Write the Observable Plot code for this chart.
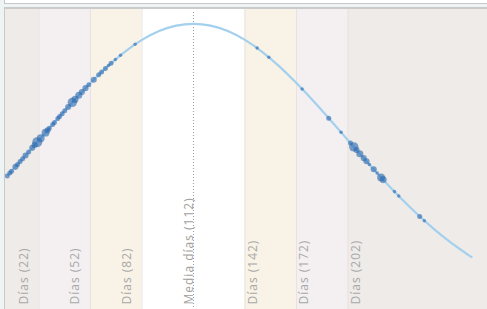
<!DOCTYPE html>
<html>
<head>
<meta charset="utf-8">
<script src="https://cdn.jsdelivr.net/npm/d3@7"></script>
<script src="https://cdn.jsdelivr.net/npm/@observablehq/plot@0.6"></script>
<style>
  html, body { margin: 0; padding: 0; }
  body { width: 487px; height: 309px; overflow: hidden; background: #eef3f4; position: relative; }
  #topbox { position: absolute; left: 4px; top: -10px; width: 600px; height: 12px; background: #fff; border: 1px solid #c9c9c9; }
  #chart { position: absolute; left: 4px; top: 7px; width: 600px; height: 320px; border-left: 1px solid #c9c9c9; border-top: 2px solid #cbcbcb; background: #fff; }
  #chart svg text { letter-spacing: 1px; }
</style>
</head>
<body>
<div id="topbox"></div>
<div id="chart"></div>
<script>
// Curve (normal distribution of days, normalized to peak = 1)
const curveDays = [4, 12, 22, 32, 42, 52, 62, 72, 82, 92, 102, 112, 122, 132, 142, 152, 162, 172, 182, 192, 202, 212, 222, 232, 242, 252, 262, 272, 274];
const curveVals = [0.4709, 0.5243, 0.5927, 0.6615, 0.7288, 0.7926, 0.8509, 0.9019, 0.9435, 0.9745, 0.9936, 1, 0.9936, 0.9745, 0.9435, 0.9019, 0.8509, 0.7926, 0.7288, 0.6615, 0.5927, 0.5243, 0.4578, 0.3946, 0.3358, 0.2821, 0.2339, 0.1915, 0.1837];

// Records (dots): days, density value, count
const dotDays = [3.5, 5, 6, 8.3, 9.5, 11, 12.5, 14.2, 16, 18.1, 19.5, 21, 23, 25.8, 27, 28, 30, 31, 33, 34, 35.5, 37, 39, 41.4, 43, 45.2, 47, 49.1, 51, 53.9, 56.8, 58.5, 60.7, 62.5, 64, 66.5, 69.5, 78, 149.1, 155.9, 175.3, 190.8, 198, 203.5, 205.4, 207, 208.9, 211.2, 212.8, 214.5, 217, 219, 221.3, 222.5, 229.1, 231.6, 243.8, 246.5];
const dotVals = [0.4676, 0.4775, 0.4841, 0.4994, 0.5075, 0.5176, 0.5277, 0.5392, 0.5516, 0.5659, 0.5756, 0.5858, 0.5996, 0.6189, 0.6272, 0.6341, 0.6479, 0.6547, 0.6683, 0.6751, 0.6853, 0.6954, 0.7089, 0.7249, 0.7354, 0.7497, 0.7613, 0.7746, 0.7864, 0.8042, 0.8214, 0.8313, 0.8437, 0.8537, 0.8618, 0.8749, 0.8899, 0.9281, 0.9150, 0.8830, 0.7721, 0.6697, 0.6203, 0.5824, 0.5693, 0.5584, 0.5454, 0.5297, 0.5189, 0.5075, 0.4907, 0.4775, 0.4624, 0.4546, 0.4126, 0.3971, 0.3258, 0.3110];
const dotCounts = [2, 2, 2, 3, 2, 2, 2, 3, 2, 3, 3, 8, 5, 5, 3, 2, 2, 2, 2, 2, 2, 2, 3, 7, 4, 4, 3, 3, 2, 3, 2, 2, 2, 1, 2, 1, 1, 1, 1, 1, 1, 2, 1, 2, 7, 3, 4, 3, 3, 1, 3, 1, 5, 4, 1, 1, 2, 1];

// Zones
const xMin = 2.5, xMax = 283.3;
const bandStarts = [xMin, 22, 52, 82, 142, 172, 202];
const bandEnds   = [22, 52, 82, 142, 172, 202, xMax];
const bandZones  = ["outer", "middle", "inner", "center", "inner", "middle", "outer"];

const meanDay = 112;
const leftDays = [22, 52, 82];
const rightDays = [142, 172, 202];
const leftLabels = ["Días (22)", "Días (52)", "Días (82)"];
const rightLabels = ["Días (142)", "Días (172)", "Días (202)"];
const meanLabel = "Media días (112)";

const curve = curveDays.map((d, i) => ({d, v: curveVals[i]}));
const dots = dotDays.map((d, i) => ({d, v: dotVals[i], n: dotCounts[i]}));
const bands = bandStarts.map((s, i) => ({s, e: bandEnds[i], z: bandZones[i]}));
const boundaries = leftDays.concat(rightDays);

const chart = Plot.plot({
  width: 482,
  height: 300,
  margin: 0,
  style: {fontFamily: "'Open Sans', sans-serif", fontSize: "12px", background: "#fff"},
  x: {domain: [xMin, xMax], axis: null},
  y: {domain: [0, 1.05], axis: null},
  r: {domain: [0, 8], range: [0, 5]},
  color: {domain: ["outer", "middle", "inner", "center"], range: ["#efebe8", "#f4f0f1", "#f9f3e7", "#ffffff"]},
  marks: [
    Plot.rect(bands, {x1: "s", x2: "e", fill: "z"}),
    Plot.ruleX(boundaries, {stroke: "#e7e1e0", strokeWidth: 1}),
    Plot.ruleX([meanDay], {stroke: "#9a9a9a", strokeDasharray: "1,2", strokeWidth: 1, insetTop: 3}),
    Plot.line(curve, {x: "d", y: "v", stroke: "#a3d0ee", strokeWidth: 2.2, curve: "natural"}),
    Plot.dot(dots, {x: "d", y: "v", r: "n", fill: "#2c69ae", fillOpacity: 0.62, stroke: "none"}),
    Plot.text(leftDays, {x: d => d, text: (d, i) => leftLabels[i], frameAnchor: "bottom", dy: -5, dx: -11, rotate: -90, textAnchor: "start", fill: "#a8a8a8", fontSize: 12}),
    Plot.text(rightDays, {x: d => d, text: (d, i) => rightLabels[i], frameAnchor: "bottom", dy: -5, dx: 12, rotate: -90, textAnchor: "start", fill: "#a8a8a8", fontSize: 12}),
    Plot.text([meanDay], {x: d => d, text: () => meanLabel, frameAnchor: "bottom", dy: -5, rotate: -90, textAnchor: "start", fill: "#a0a0a0", fontSize: 12})
  ]
});
document.getElementById("chart").appendChild(chart);
</script>
</body>
</html>
